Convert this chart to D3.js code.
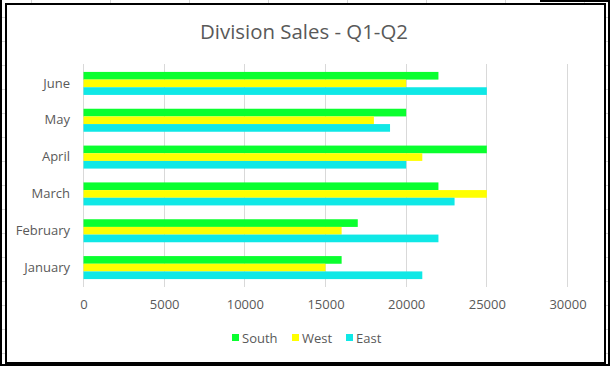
<!DOCTYPE html>
<html>
<head>
<meta charset="utf-8">
<script src="https://cdn.jsdelivr.net/npm/d3@7"></script>
<style>
  html, body { margin: 0; padding: 0; background: #ffffff; }
  svg { display: block; }
  text { font-family: "Open Sans", "Liberation Sans", sans-serif; }
</style>
</head>
<body>
<svg id="chart" width="610" height="366"></svg>
<script>
const title = "Division Sales - Q1-Q2";
const categories = ["January", "February", "March", "April", "May", "June"];
const seriesNames = ["South", "West", "East"];
const southValues = [16000, 17000, 22000, 25000, 20000, 22000];
const westValues  = [15000, 16000, 25000, 21000, 18000, 20000];
const eastValues  = [21000, 22000, 23000, 20000, 19000, 25000];
const xTickValues = [0, 5000, 10000, 15000, 20000, 25000, 30000];
const seriesColors = ["#0aff2f", "#ffff00", "#0fe8e6"];

const W = 610, H = 366;
const svg = d3.select("#chart");
const textColor = "#595959";

// spreadsheet background grid
const bg = svg.append("g");
d3.range(31, W, 79).forEach(x => bg.append("line").attr("x1", x + 0.5).attr("x2", x + 0.5).attr("y1", 0).attr("y2", H).attr("stroke", "#d6d6d6"));
d3.range(17, H, 24).forEach(y => bg.append("line").attr("y1", y + 0.5).attr("y2", y + 0.5).attr("x1", 0).attr("x2", W).attr("stroke", "#d6d6d6"));

// outer frame lines
svg.append("line").attr("x1", 1).attr("x2", 1).attr("y1", 0).attr("y2", H).attr("stroke", "#000").attr("stroke-width", 2);
svg.append("line").attr("x1", 609).attr("x2", 609).attr("y1", 0).attr("y2", H).attr("stroke", "#000").attr("stroke-width", 2);
svg.append("line").attr("x1", 0).attr("x2", W).attr("y1", 365).attr("y2", 365).attr("stroke", "#000").attr("stroke-width", 2);
svg.append("line").attr("x1", 540).attr("x2", W).attr("y1", 1).attr("y2", 1).attr("stroke", "#000").attr("stroke-width", 2);

// chart area
svg.append("rect").attr("x", 6).attr("y", 4).attr("width", 599).attr("height", 359)
  .attr("fill", "#ffffff").attr("stroke", "#000").attr("stroke-width", 2);

// title
const t = svg.append("text").attr("x", 304).attr("y", 39).attr("text-anchor", "middle")
  .attr("fill", textColor).style("font-size", "19px").text(title);
const tw = t.node().getComputedTextLength();
t.style("font-size", (19 * 208 / tw).toFixed(2) + "px");

// scales
const plotTop = 64, plotBottom = 287;
const x = d3.scaleLinear().domain([0, 30000]).range([83.5, 567.5]);
const yCats = categories.slice().reverse();
const y = d3.scaleBand().domain(yCats).range([65, 286]).padding(0);
const groupH = 23;
const ySub = d3.scaleBand().domain(seriesNames)
  .range([(y.bandwidth() - groupH) / 2, (y.bandwidth() + groupH) / 2]).padding(0);

// gridlines
const grid = svg.append("g").attr("transform", `translate(0,${plotTop})`)
  .call(d3.axisBottom(x).tickValues(xTickValues).tickSize(plotBottom - plotTop).tickFormat(""));
grid.select(".domain").remove();
grid.selectAll(".tick line").attr("stroke", "#d9d9d9").attr("stroke-width", 1);
grid.selectAll(".tick").attr("transform", d => `translate(${Math.floor(x(d)) + 0.5},0)`);

// bars
const seriesValues = [southValues, westValues, eastValues];
const rows = [];
categories.forEach((c, i) => seriesNames.forEach((s, j) => rows.push({ cat: c, series: s, value: seriesValues[j][i], color: seriesColors[j] })));
svg.append("g").selectAll("rect").data(rows).join("rect")
  .attr("x", x(0))
  .attr("y", d => y(d.cat) + ySub(d.series))
  .attr("width", d => x(d.value) - x(0))
  .attr("height", ySub.bandwidth())
  .attr("fill", d => d.color);

// x axis labels
const xa = svg.append("g").attr("transform", `translate(0,${plotBottom})`)
  .call(d3.axisBottom(x).tickValues(xTickValues).tickSize(0).tickPadding(13).tickFormat(d3.format("d")));
xa.select(".domain").remove();
xa.selectAll("text").attr("fill", textColor).style("font-size", "13px").style("font-family", "'Open Sans', sans-serif");

// y axis labels
const ya = svg.append("g").attr("transform", `translate(70,0)`)
  .call(d3.axisLeft(y).tickSize(0).tickPadding(0));
ya.select(".domain").remove();
ya.selectAll("text").attr("fill", textColor).style("font-size", "13px").style("font-family", "'Open Sans', sans-serif");

// legend
const legendX = [232, 292, 346];
const lg = svg.append("g");
seriesNames.forEach((s, i) => {
  lg.append("rect").attr("x", legendX[i]).attr("y", 334).attr("width", 7).attr("height", 7).attr("fill", seriesColors[i]);
  lg.append("text").attr("x", legendX[i] + 10).attr("y", 342.5).attr("fill", textColor)
    .style("font-size", "13px").text(s);
});
</script>
</body>
</html>
